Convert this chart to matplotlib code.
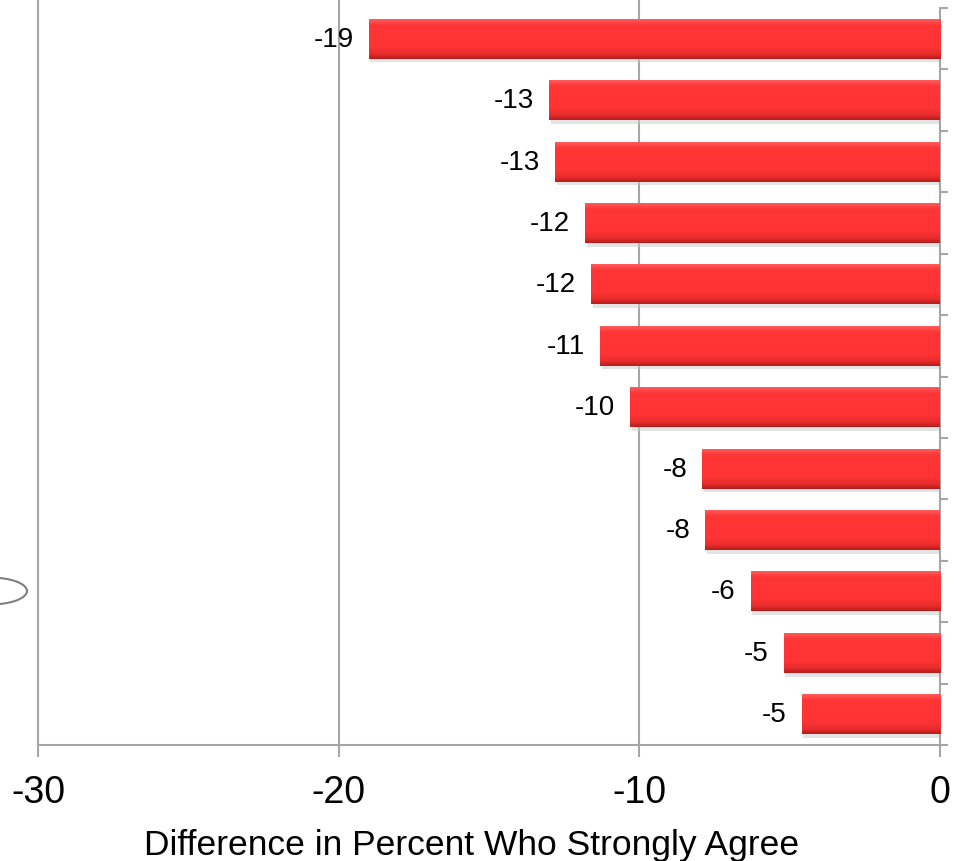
import matplotlib.pyplot as plt
import numpy as np
from matplotlib.patches import Ellipse
from matplotlib.colors import LinearSegmentedColormap

plt.rcParams['font.family'] = ['Liberation Sans', 'DejaVu Sans']

# values top -> bottom
values = [-19.0, -13.0, -12.8, -11.8, -11.6, -11.3, -10.3, -7.9, -7.8, -6.3, -5.2, -4.6]
labels = ["-19", "-13", "-13", "-12", "-12", "-11", "-10", "-8", "-8", "-6", "-5", "-5"]
xticks = [-30, -20, -10, 0]

grid_col = '#A6A6A6'
bar_h = 0.65

fig = plt.figure(figsize=(9.61, 8.62), dpi=100)
ax = fig.add_axes([38 / 961, (862 - 746) / 862, (940 - 38) / 961, (746 - 9) / 862])

n = len(values)
ypos = np.arange(n)[::-1]  # first value at top

# vertical gradient for the bars (dark bottom edge, bright body, light top)
cmap = LinearSegmentedColormap.from_list(
    'redbar', [(0, '#B81C1C'), (0.12, '#E82C2C'), (0.3, '#FF3333'), (0.85, '#FF3535'), (1, '#FF5A5A')])
grad = np.linspace(0, 1, 64).reshape(-1, 1)

for y, v, lab in zip(ypos, values, labels):
    # soft shadow under the bar
    ax.add_patch(plt.Rectangle((v + 0.05, y - bar_h / 2 - 0.06), -v, bar_h,
                               facecolor='#C8C8C8', edgecolor='none', alpha=0.5, zorder=2))
    ax.imshow(grad, cmap=cmap, aspect='auto', origin='lower',
              extent=(v, 0, y - bar_h / 2, y + bar_h / 2), zorder=3, interpolation='bilinear')
    ax.text(v - 0.5, y, lab, ha='right', va='center', fontsize=20, color='black', zorder=5)

ax.set_xlim(-30, 0)
ax.set_ylim(-0.5, n - 0.5)

# vertical gridlines run up past the top of the plot
for t in xticks[:-1]:
    ax.axvline(t, ymin=0, ymax=1.015, color=grid_col, linewidth=1.5, clip_on=False, zorder=1)

ax.set_xticks(xticks)
ax.set_xticklabels([str(t) for t in xticks], fontsize=27)
ax.tick_params(axis='x', direction='out', length=8.6, width=1.5, color=grid_col, pad=12)

ax.yaxis.tick_right()
ax.set_yticks(np.arange(n + 1) - 0.5)
ax.set_yticklabels([])
ax.tick_params(axis='y', direction='out', length=5.8, width=1.5, color=grid_col)

for s in ['top', 'left']:
    ax.spines[s].set_visible(False)
for s in ['right', 'bottom']:
    ax.spines[s].set_color(grid_col)
    ax.spines[s].set_linewidth(1.5)

ax.set_xlabel('Difference in Percent Who Strongly Agree', fontsize=25.5)
ax.xaxis.set_label_coords(0.481, -0.113)

# partially visible annotation ellipse at the left edge
ell = Ellipse((-10 / 961, 1 - 592 / 862), 74 / 961, 27 / 862, transform=fig.transFigure,
              facecolor='none', edgecolor='#7F7F7F', linewidth=1.5)
fig.patches.append(ell)

fig.savefig('out.png', dpi=100)
